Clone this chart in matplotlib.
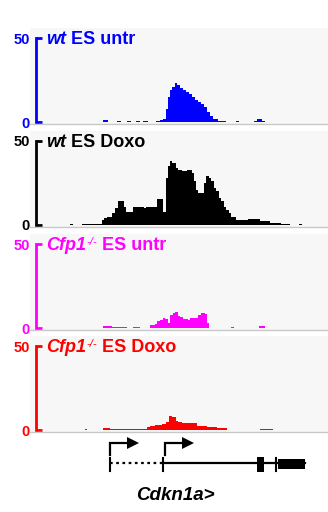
import matplotlib
matplotlib.use("Agg")
import matplotlib.pyplot as plt

plt.rcParams["font.family"] = ["Liberation Sans", "DejaVu Sans"]

# ChIP-seq tracks (position in track units, step heights)
blue_x = [100, 103, 108, 117, 121, 127, 131, 136, 140, 143, 148, 156, 160, 163, 166, 168, 170, 172, 175, 177,
          180, 183, 186, 189, 192, 195, 198, 201, 204, 207, 210, 213, 218, 226, 236, 239, 254, 257, 262, 265]
blue_y = [0, 1.2, 0, 0.8, 0, 0.6, 0, 0.5, 0, 0.5, 0, 0.4, 1.0, 1.8, 8, 15, 19, 21, 23, 22,
          20, 19, 18, 16.5, 15, 13, 12, 11, 9, 6, 3.5, 1.5, 0.6, 0, 0.6, 0, 0.8, 1.5, 0.5, 0]

black_x = [70, 73, 82, 102, 104, 107, 112, 115, 118, 124, 126, 128, 133, 144, 146, 155, 157, 163, 166, 168,
           170, 172, 176, 178, 182, 187, 192, 194, 196, 198, 204, 206, 209, 211, 214, 216, 219, 221, 224, 226,
           229, 231, 236, 248, 260, 270, 281, 290, 299, 302]
black_y = [0.8, 0, 0.8, 3, 4, 4.5, 7, 10, 14, 11, 8, 8, 11, 10, 11, 10.5, 15.5, 8, 28, 35,
           38, 37, 34, 32.5, 32, 33, 31, 26, 21, 19, 25, 29, 28, 26, 22, 20, 16, 14, 11, 9,
           7, 5, 3, 3.5, 2.2, 1.2, 0.8, 0, 0.8, 0]

mag_x = [103, 112, 115, 127, 133, 140, 150, 155, 157, 160, 163, 165, 168, 170, 173, 175, 178, 180, 183, 188,
         190, 194, 198, 201, 205, 207, 209, 231, 234, 259, 265]
mag_y = [1, 0.4, 0.8, 0, 0.5, 0, 1.5, 2.5, 4, 5, 6, 5.5, 3, 8, 9, 9.5, 7, 6.5, 5.5, 5,
         6, 6.2, 8, 9, 8.5, 3, 0, 0.5, 0, 1, 0]

red_x = [85, 87, 103, 110, 147, 150, 155, 162, 166, 169, 172, 176, 178, 182, 197, 207, 217, 227, 260, 273]
red_y = [0.8, 0, 1, 0.6, 1.5, 2.5, 3, 3.5, 5, 8.3, 7.5, 5.5, 4.5, 4, 2.5, 1.8, 1, 0, 0.8, 0]

tracks = [
    (blue_x, blue_y, "#0000ff", "wt", None, " ES untr"),
    (black_x, black_y, "#000000", "wt", None, " ES Doxo"),
    (mag_x, mag_y, "#ff00ff", "Cfp1", "-/-", " ES untr"),
    (red_x, red_y, "#ff0000", "Cfp1", "-/-", " ES Doxo"),
]

# gene model (Cdkn1a)
tss = [110, 165]
alt_start, main_start, gene_end = 110, 163, 305
exon_small = (257, 264)
exon_big = (278, 305)
exon_tick = 276

W, H = 328, 512
fig = plt.figure(figsize=(W / 100, H / 100), dpi=100)


def px_axes(left, top, width, height):
    return fig.add_axes([left / W, 1 - (top + height) / H, width / W, height / H])


xlim = (30, 328)
tops = [28, 131, 234, 336]
ph = 96
ylim = (-2 / 84 * 50, (ph - 2) / 84 * 50)

for (xs, ys, col, ital, sup, rest), top in zip(tracks, tops):
    ax = px_axes(30, top, 298, ph)
    ax.set_facecolor("#f7f7f7")
    ax.fill_between(xs, ys, 0, step="post", color=col, linewidth=0)
    ax.set_xlim(*xlim)
    ax.set_ylim(*ylim)
    for s in ["top", "right"]:
        ax.spines[s].set_visible(False)
    ax.spines["bottom"].set_color("#c8c8c8")
    ax.spines["bottom"].set_linewidth(1)
    ax.spines["left"].set_position(("data", 35.5))
    ax.spines["left"].set_bounds(0, 50)
    ax.spines["left"].set_color(col)
    ax.spines["left"].set_linewidth(2)
    ax.set_xticks([])
    ax.set_yticks([0, 50])
    ax.set_yticklabels(["0", "50"], fontsize=10.5, fontweight="bold")
    ax.tick_params(axis="y", direction="in", length=4, width=2, color=col,
                   labelcolor=col, pad=4)
    t1 = ax.text(46, 44, ital, color=col, fontsize=13, fontweight="bold",
                 style="italic", va="bottom", ha="left")
    anchor = t1
    if sup:
        t2 = ax.annotate(sup, xy=(1, 1), xycoords=t1, xytext=(0.5, 0),
                         textcoords="offset points", color=col, fontsize=8,
                         style="italic", va="top", ha="left")
        anchor = t2
    ax.annotate(rest, xy=(1, 0), xycoords=(anchor, t1), color=col, fontsize=13,
                fontweight="bold", va="bottom", ha="left")

# gene track
gx = px_axes(30, 435, 298, 77)
gx.set_xlim(*xlim)
gx.set_ylim(512, 435)
gx.axis("off")
line_y = 463
gx.plot([alt_start, main_start], [line_y, line_y], color="black", lw=1.6,
        linestyle=(0, (1.2, 1.6)))
gx.plot([main_start, gene_end], [line_y, line_y], color="black", lw=1.6)
for xt in [alt_start, main_start, exon_tick]:
    gx.plot([xt, xt], [458, 471], color="black", lw=1.5)
gx.fill_between(exon_small, 457, 472, color="black", linewidth=0)
gx.fill_between(exon_big, 459, 469, color="black", linewidth=0)
for xt in tss:
    gx.plot([xt, xt, xt + 19], [455, 443, 443], color="black", lw=1.6,
            solid_joinstyle="miter")
    gx.plot(xt + 23, 443, marker=">", ms=8, color="black", mew=0)
gx.text(175, 495, "Cdkn1a>", fontsize=13.5, fontweight="bold", style="italic",
        ha="center", va="center")

fig.savefig("out.png", dpi=100)
